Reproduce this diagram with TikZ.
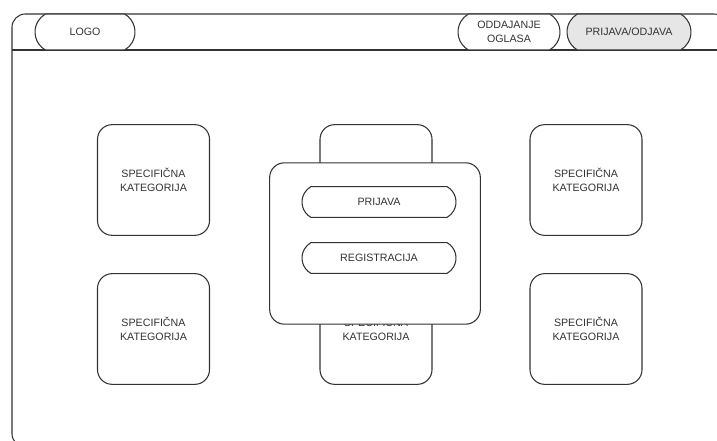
\documentclass[tikz,border=0pt]{standalone}
\usepackage{fontspec}
\setmainfont{Liberation Sans}
\usetikzlibrary{shapes.misc}
\definecolor{ink}{HTML}{333333}
\definecolor{btnfill}{HTML}{E6E6E6}
\tikzset{
  ui/.style={draw=ink, line width=0.8pt, text=ink, font=\fontsize{8}{10.5}\selectfont, align=center},
  pillbtn/.style={ui, rounded rectangle, rounded rectangle arc length=120, inner sep=0pt, fill=white},
  catbox/.style={ui, rectangle, rounded corners=11pt, inner sep=0pt, fill=white,
    minimum width=84pt, minimum height=83pt},
  popup/.style={ui, rectangle, rounded corners=11pt, inner sep=0pt, fill=white,
    minimum width=158pt, minimum height=121pt}
}
\begin{document}
\begin{tikzpicture}[x=0.75pt,y=-0.75pt]
\useasboundingbox (0,0) rectangle (717,441);
\clip (0,0) rectangle (717,441);
% page frame and header rule
\draw[draw=ink, line width=0.8pt, rounded corners=10pt] (12,14) rectangle (727,447);
\coordinate (hl) at (12,50);
\coordinate (hr) at (717,50);
\draw[draw=ink, line width=0.8pt] (hl) -- (hr);
% header buttons
\node[pillbtn, minimum width=75pt, minimum height=27pt] (logo) at (85,32) {LOGO};
\node[pillbtn, minimum width=76.5pt, minimum height=27pt] (oglas) at (509,32) {ODDAJANJE\\OGLASA};
\node[pillbtn, fill=btnfill, minimum width=93pt, minimum height=27pt] (prijodj) at (629,32) {PRIJAVA/ODJAVA};
% category tiles
\node[catbox] (c1) at (153.5,180) {SPECIFIČNA\\KATEGORIJA};
\node[catbox] (c2) at (376,180) {SPECIFIČNA\\KATEGORIJA};
\node[catbox] (c3) at (586,180) {SPECIFIČNA\\KATEGORIJA};
\node[catbox] (c4) at (153.5,329) {SPECIFIČNA\\KATEGORIJA};
\node[catbox] (c5) at (376,329) {SPECIFIČNA\\KATEGORIJA};
\node[catbox] (c6) at (586,329) {SPECIFIČNA\\KATEGORIJA};
% login dialog over the tiles
\node[popup] (dlg) at (375,243.5) {};
\node[pillbtn, minimum width=115.5pt, minimum height=23pt] (prijava) at (379,202) {PRIJAVA};
\node[pillbtn, minimum width=115.5pt, minimum height=23pt] (reg) at (379,258) {REGISTRACIJA};
\end{tikzpicture}
\end{document}
